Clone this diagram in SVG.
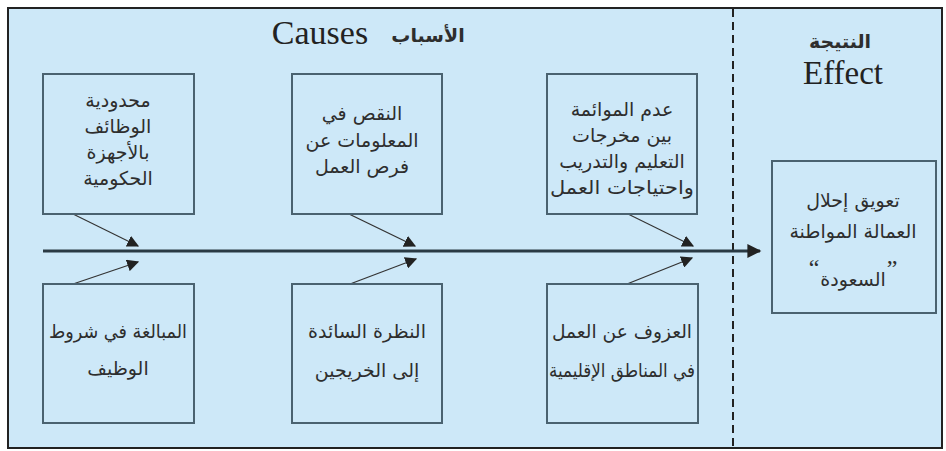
<svg xmlns="http://www.w3.org/2000/svg" width="946" height="451" viewBox="0 0 946 451">
  <style>
    .box { fill: #cde8f8; stroke: #4a6270; stroke-width: 2; }
    .ar { font-family: "DejaVu Sans", "Noto Sans", sans-serif; font-size: 19px; fill: #2e2e2e; text-anchor: middle; direction: rtl; }
    .en { font-family: "Liberation Serif", serif; fill: #222; text-anchor: middle; }
    .q { font-family: "Liberation Serif", serif; font-size: 24px; fill: #2e2e2e; text-anchor: middle; }
    .link { stroke: #333; stroke-width: 1.2; fill: none; marker-end: url(#tip); }
  </style>
  <defs>
    <marker id="tip" viewBox="0 0 10 10" refX="9" refY="5" markerWidth="12" markerHeight="12" markerUnits="userSpaceOnUse" orient="auto">
      <path d="M0,0 L10,5 L0,10 z" fill="#222"/>
    </marker>
    <marker id="bigtip" viewBox="0 0 10 10" refX="9" refY="5" markerWidth="18" markerHeight="14" markerUnits="userSpaceOnUse" orient="auto">
      <path d="M0,0 L10,5 L0,10 z" fill="#222"/>
    </marker>
  </defs>

  <!-- frame -->
  <rect x="0" y="0" width="946" height="451" fill="#ffffff"/>
  <rect x="8" y="8" width="934" height="440" fill="#cde8f8" stroke="#222" stroke-width="2"/>
  <line x1="733" y1="9" x2="733" y2="448" stroke="#222" stroke-width="2" stroke-dasharray="8,5"/>

  <!-- headings -->
  <text class="en" x="320" y="44" font-size="34">Causes</text>
  <text class="ar" x="428" y="42" font-size="30" font-weight="bold">الأسباب</text>
  <text class="ar" x="840" y="48" font-size="28" font-weight="bold">النتيجة</text>
  <text class="en" x="843" y="84" font-size="33">Effect</text>

  <!-- connectors -->
  <g id="connectors">
    <line x1="43" y1="251" x2="760" y2="251" stroke="#2a3a44" stroke-width="3" marker-end="url(#bigtip)"/>
    <line class="link" x1="73" y1="214" x2="138" y2="246"/>
    <line class="link" x1="349" y1="214" x2="415" y2="246"/>
    <line class="link" x1="628" y1="214" x2="693" y2="246"/>
    <line class="link" x1="73" y1="284" x2="138" y2="262"/>
    <line class="link" x1="350" y1="284" x2="416" y2="259"/>
    <line class="link" x1="627" y1="284" x2="692" y2="258"/>
  </g>

  <!-- cause boxes, upper row -->
  <g id="cause-jobs">
    <rect class="box" x="43" y="74" width="151" height="140"/>
    <text class="ar" x="118" y="107" font-size="21">محدودية</text>
    <text class="ar" x="118" y="133" font-size="21">الوظائف</text>
    <text class="ar" x="118" y="159" font-size="21">بالأجهزة</text>
    <text class="ar" x="118" y="185" font-size="21">الحكومية</text>
  </g>
  <g id="cause-info">
    <rect class="box" x="292" y="74" width="150" height="140"/>
    <text class="ar" x="362" y="120">النقص في</text>
    <text class="ar" x="362" y="147">المعلومات عن</text>
    <text class="ar" x="362" y="173">فرص العمل</text>
  </g>
  <g id="cause-mismatch">
    <rect class="box" x="547" y="74" width="150" height="140"/>
    <text class="ar" x="622" y="116">عدم الموائمة</text>
    <text class="ar" x="622" y="142">بين مخرجات</text>
    <text class="ar" x="622" y="168">التعليم والتدريب</text>
    <text class="ar" x="622" y="194" textLength="144" lengthAdjust="spacingAndGlyphs">واحتياجات العمل</text>
  </g>

  <!-- cause boxes, lower row -->
  <g id="cause-conditions">
    <rect class="box" x="43" y="284" width="151" height="139"/>
    <text class="ar" x="118" y="338" textLength="138" lengthAdjust="spacingAndGlyphs">المبالغة في شروط</text>
    <text class="ar" x="118" y="375">الوظيف</text>
  </g>
  <g id="cause-view">
    <rect class="box" x="292" y="284" width="150" height="139"/>
    <text class="ar" x="367" y="338">النظرة السائدة</text>
    <text class="ar" x="367" y="377">إلى الخريجين</text>
  </g>
  <g id="cause-regions">
    <rect class="box" x="547" y="284" width="151" height="139"/>
    <text class="ar" x="622" y="338" textLength="140" lengthAdjust="spacingAndGlyphs">العزوف عن العمل</text>
    <text class="ar" x="622" y="377" textLength="146" lengthAdjust="spacingAndGlyphs">في المناطق الإقليمية</text>
  </g>

  <!-- effect box -->
  <g id="effect">
    <rect class="box" x="772" y="161" width="164" height="152"/>
    <text class="ar" x="853" y="207" font-size="20">تعويق إحلال</text>
    <text class="ar" x="853" y="238" font-size="20">العمالة المواطنة</text>
    <text class="q" x="814" y="276">“</text>
    <text class="ar" x="853" y="286" font-size="19">السعودة</text>
    <text class="q" x="892" y="276">”</text>
  </g>
</svg>
